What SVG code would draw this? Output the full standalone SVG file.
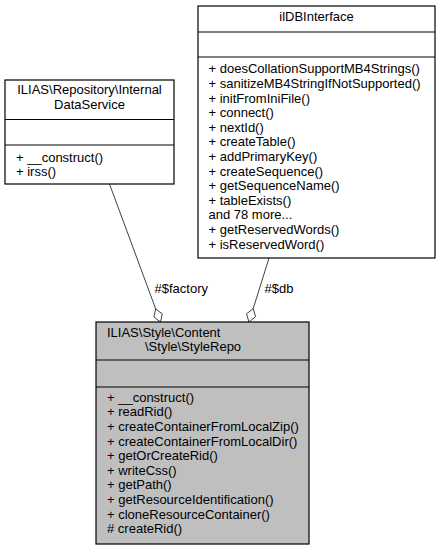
<svg xmlns="http://www.w3.org/2000/svg" width="440" height="551" viewBox="0 0 440 551">
<style>
text{font-family:"Liberation Sans",Arial,sans-serif;font-size:13px;fill:#000}
.c{text-anchor:middle}
.box{fill:#fff;stroke:#000;stroke-width:1.2}
.cur{fill:#bfbfbf;stroke:#000;stroke-width:1.2}
.sep{stroke:#000;stroke-width:1.2}
.edge{fill:none;stroke:#404040;stroke-width:1}
.dia{fill:#fff;stroke:#404040;stroke-width:1}
</style>
<rect width="440" height="551" fill="#fff"/>
<g id="connectors">
<path class="edge" d="M109.5,184 L155.7,308.9"/>
<polygon class="dia" points="160.5,322 162.3,313.9 155.7,308.9 153.9,317"/>
<text x="154.5" y="292.7">#$factory</text>
<path class="edge" d="M269,258 L253.2,308.6"/>
<polygon class="dia" points="249,322 255.6,316.7 253.2,308.6 246.5,313.9"/>
<text x="264.5" y="292.7">#$db</text>
</g>
<g id="node-ilDBInterface">
<rect class="box" x="198" y="6" width="237" height="252"/>
<line class="sep" x1="198" y1="32" x2="435" y2="32"/>
<line class="sep" x1="198" y1="57" x2="435" y2="57"/>
<text class="c" x="316.5" y="21">ilDBInterface</text>
<text x="208.5" y="73.3">+ doesCollationSupportMB4Strings()</text>
<text x="208.5" y="87.9">+ sanitizeMB4StringIfNotSupported()</text>
<text x="208.5" y="102.5">+ initFromIniFile()</text>
<text x="208.5" y="117.1">+ connect()</text>
<text x="208.5" y="131.7">+ nextId()</text>
<text x="208.5" y="146.3">+ createTable()</text>
<text x="208.5" y="160.9">+ addPrimaryKey()</text>
<text x="208.5" y="175.5">+ createSequence()</text>
<text x="208.5" y="190.1">+ getSequenceName()</text>
<text x="208.5" y="204.7">+ tableExists()</text>
<text x="208.5" y="219.3">and 78 more...</text>
<text x="208.5" y="233.9">+ getReservedWords()</text>
<text x="208.5" y="248.5">+ isReservedWord()</text>
</g>
<g id="node-InternalDataService">
<rect class="box" x="5" y="80" width="169" height="104"/>
<line class="sep" x1="5" y1="119.5" x2="174" y2="119.5"/>
<line class="sep" x1="5" y1="145" x2="174" y2="145"/>
<text class="c" x="89.5" y="94">ILIAS\Repository\Internal</text>
<text class="c" x="89.5" y="109.3">DataService</text>
<text x="16" y="161.7">+ __construct()</text>
<text x="16" y="176.3">+ irss()</text>
</g>
<g id="node-StyleRepo">
<rect class="cur" x="96" y="322" width="213" height="222"/>
<line class="sep" x1="96" y1="360" x2="309" y2="360"/>
<line class="sep" x1="96" y1="387" x2="309" y2="387"/>
<text x="107" y="336.5">ILIAS\Style\Content</text>
<text x="145" y="351.2">\Style\StyleRepo</text>
<text x="107" y="401.7">+ __construct()</text>
<text x="107" y="416.3">+ readRid()</text>
<text x="107" y="430.9">+ createContainerFromLocalZip()</text>
<text x="107" y="445.5">+ createContainerFromLocalDir()</text>
<text x="107" y="460.1">+ getOrCreateRid()</text>
<text x="107" y="474.7">+ writeCss()</text>
<text x="107" y="489.3">+ getPath()</text>
<text x="107" y="503.9">+ getResourceIdentification()</text>
<text x="107" y="518.5">+ cloneResourceContainer()</text>
<text x="107" y="533.1"># createRid()</text>
</g>
</svg>
